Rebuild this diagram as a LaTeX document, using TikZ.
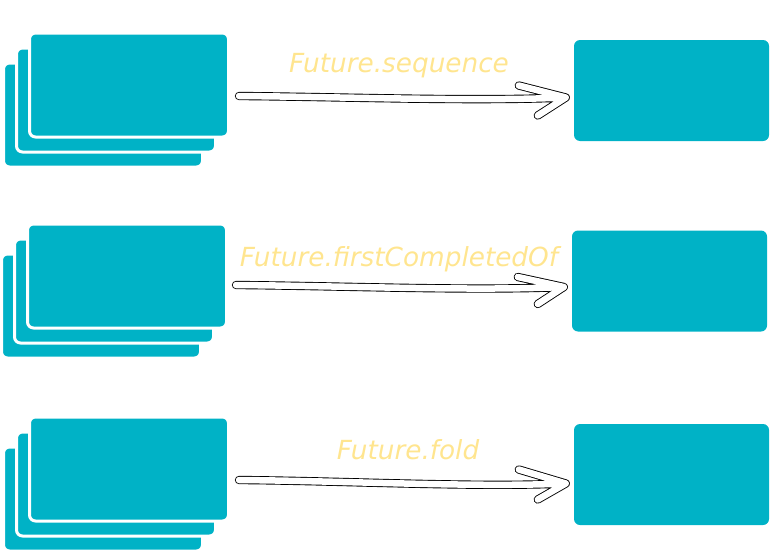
\documentclass[tikz,border=0pt]{standalone}
\usepackage{fontspec}
\setmainfont{DejaVu Sans}
\usepackage{tikz}
\usetikzlibrary{calc}
\usepackage{xcolor}
\definecolor{futteal}{RGB}{0,178,198}
\definecolor{futyellow}{RGB}{255,229,143}
\tikzstyle{card} = [rectangle, minimum width=199pt, minimum height=104pt, rounded corners=6pt, draw=white, line width=3pt, fill=futteal, inner sep=0pt]
\tikzstyle{result} = [rectangle, minimum width=195pt, minimum height=101pt, rounded corners=6pt, fill=futteal, inner sep=0pt]
\tikzstyle{sketch} = [draw=black, line width=0.9pt, double=white, double distance=6.5pt, line cap=round, line join=round]
\tikzstyle{op} = [font=\fontsize{26.3}{30}\selectfont\itshape, text=futyellow, anchor=base, inner sep=0pt]

\begin{document}
\begin{tikzpicture}[x=1pt, y=-1pt]
\useasboundingbox (0,0) rectangle (782,554);

% Sequence
\node[card] (seqc) at (103,115) {};
\node[card] (seqb) at (116,100) {};
\node[card] (seqa) at (129,85) {};
\node[result] (seqr) at (671.5,90.5) {};
\node[op] (seql) at (399,72) {Future.sequence};
\coordinate (seqt) at ($(seqr.west)+(-8,7)$);
\draw[sketch] ($(seqa.east)+(9,11)$) .. controls +(110,1) and +(-90,4) .. (seqt)
  ($(seqt)+(-47,-12)$) -- (seqt) -- ($(seqt)+(-28,18)$);

% First completed
\node[card] (fstc) at (101,306) {};
\node[card] (fstb) at (114,291) {};
\node[card] (fsta) at (127,276) {};
\node[result] (fstr) at (669.5,281) {};
\node[op] (fstl) at (399,266) {Future.firstCompletedOf};
\coordinate (fstt) at ($(fstr.west)+(-8,6)$);
\draw[sketch] ($(fsta.east)+(8,9)$) .. controls +(110,1) and +(-90,4) .. (fstt)
  ($(fstt)+(-46,-10)$) -- (fstt) -- ($(fstt)+(-26,17)$);

% Fold
\node[card] (fldc) at (103,499) {};
\node[card] (fldb) at (116,484) {};
\node[card] (flda) at (129,469) {};
\node[result] (fldr) at (671.5,474.5) {};
\node[op] (fldl) at (408,459) {Future.fold};
\coordinate (fldt) at ($(fldr.west)+(-8,9)$);
\draw[sketch] ($(flda.east)+(9,11)$) .. controls +(110,1) and +(-90,4) .. (fldt)
  ($(fldt)+(-47,-14)$) -- (fldt) -- ($(fldt)+(-28,16)$);
\end{tikzpicture}
\end{document}
